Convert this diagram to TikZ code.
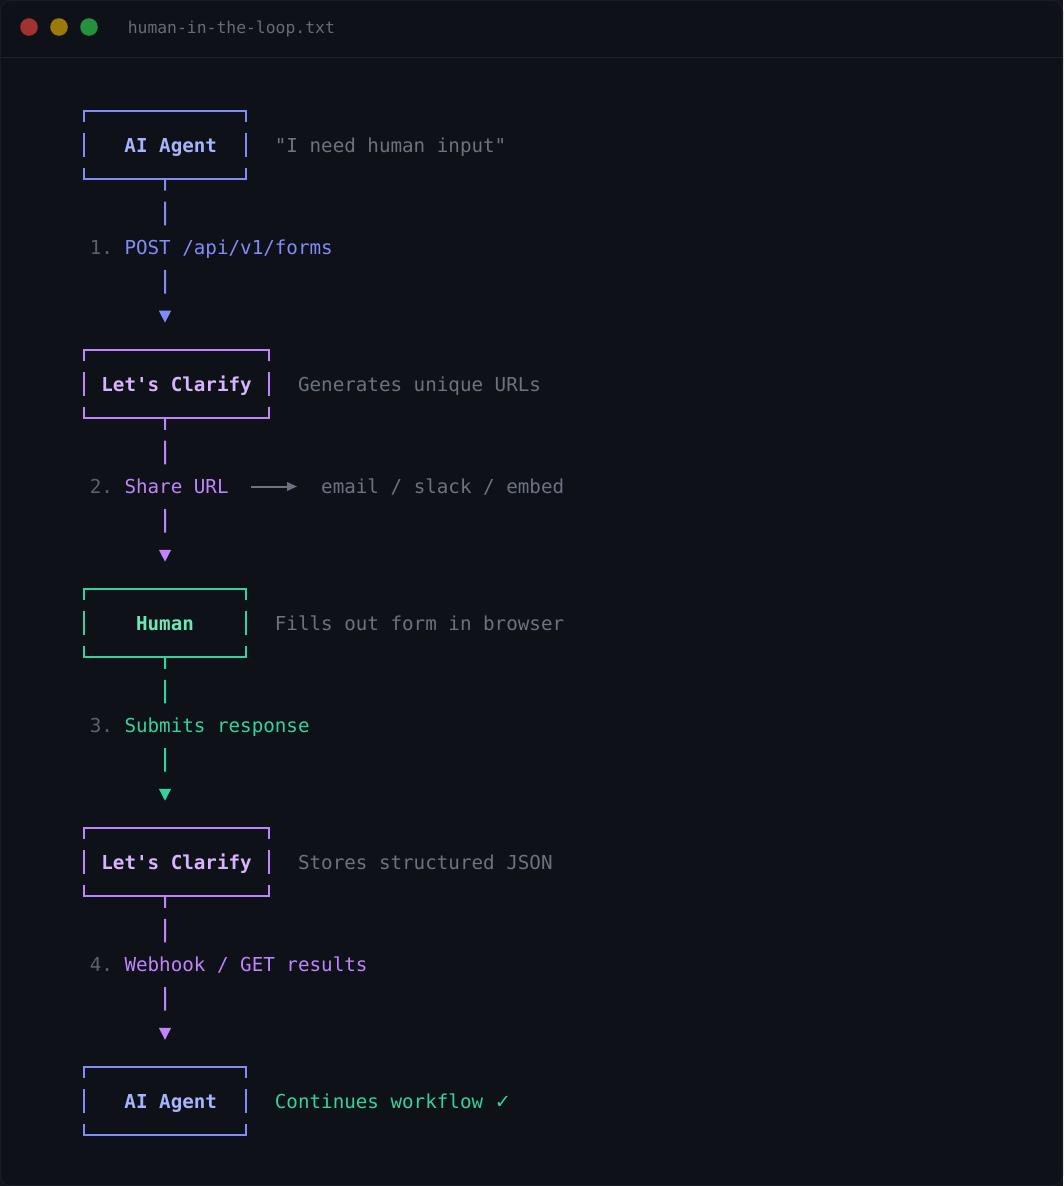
\documentclass[tikz,border=0pt]{standalone}
\usepackage{fontspec}
\setmonofont{DejaVu Sans Mono}
\newfontfamily\symfont{DejaVu Sans}
\usetikzlibrary{arrows.meta}
\definecolor{bgc}{HTML}{0E1118}
\definecolor{outerc}{HTML}{12151C}
\definecolor{borderc}{HTML}{181C24}
\definecolor{sepc}{HTML}{1E222B}
\definecolor{titlec}{HTML}{656B78}
\definecolor{dotred}{HTML}{A13232}
\definecolor{dotyel}{HTML}{9C7A0A}
\definecolor{dotgrn}{HTML}{24913D}
\definecolor{blueln}{HTML}{818CF8}
\definecolor{bluetx}{HTML}{A5B4FC}
\definecolor{purpln}{HTML}{C084FC}
\definecolor{purptx}{HTML}{D8B4FE}
\definecolor{grnln}{HTML}{34D399}
\definecolor{grntx}{HTML}{6EE7B7}
\definecolor{grayc}{HTML}{6B7280}
\definecolor{numc}{HTML}{5B6170}
\newcommand\gapbox[2]{%
  \draw[bx=#2] ([yshift=-11pt]#1.north west) -- (#1.north west) -- (#1.north east) -- ([yshift=-11pt]#1.north east);
  \draw[bx=#2] ([yshift=11.6pt]#1.south west) -- (#1.south west) -- (#1.south east) -- ([yshift=11.6pt]#1.south east);
  \draw[bx=#2] ([yshift=12pt]#1.west) -- ([yshift=-11.7pt]#1.west);
  \draw[bx=#2] ([yshift=12pt]#1.east) -- ([yshift=-11.7pt]#1.east);
}
\begin{document}
\begin{tikzpicture}[x=1pt,y=-1pt,
  txt/.style={anchor=base west,inner sep=0pt,outer sep=0pt,font=\ttfamily\fontsize{19.22}{23}\selectfont},
  lbl/.style={txt,font=\ttfamily\bfseries\fontsize{19.22}{23}\selectfont},
  boxnode/.style={draw=none,inner sep=0pt,outer sep=0pt,minimum height=68.3pt},
  bx/.style={line width=2pt,line cap=butt,draw=#1},
  conn/.style={line width=2pt,draw=#1,
    dash pattern=on 0pt off 0.85pt on 10.7pt off 10.95pt on 23.6pt off 44.7pt on 23.6pt off 80pt,
    shorten >=27.2pt, -{Triangle[width=11.7pt,length=12pt]}},
  garrow/.style={line width=2pt,draw=grayc,shorten <=22.4pt,shorten >=24.2pt,
    -{Triangle[width=8.5pt,length=10pt]}},
  dot/.style={circle,inner sep=0pt,minimum size=17.6pt,fill=#1}
]
\useasboundingbox (0,0) rectangle (1063,1186);
\fill[outerc] (0,0) rectangle (1063,1186);
\filldraw[fill=bgc,draw=borderc,line width=1pt,rounded corners=10pt] (0.5,0.5) rectangle (1062.5,1185.5);

% title bar
\node[dot=dotred] (red) at (29,27) {};
\node[dot=dotyel] (yel) at (59,27) {};
\node[dot=dotgrn] (grn) at (89,27) {};
\node[anchor=base west,inner sep=0pt,font=\ttfamily\fontsize{16.38}{20}\selectfont,text=titlec] (title) at (127.6,33.1) {human-in-the-loop.txt};
\draw[sepc,line width=1pt] (0.5,57.3) -- (1062.5,57.3);

% boxes
\node[boxnode,minimum width=161.98pt] (b1) at (165,145) {};
\node[boxnode,minimum width=185.12pt] (b2) at (176.56,384.05) {};
\node[boxnode,minimum width=161.98pt] (b3) at (165,623.1) {};
\node[boxnode,minimum width=185.12pt] (b4) at (176.56,862.15) {};
\node[boxnode,minimum width=161.98pt] (b5) at (165,1101.2) {};
\gapbox{b1}{blueln}
\gapbox{b2}{purpln}
\gapbox{b3}{grnln}
\gapbox{b4}{purpln}
\gapbox{b5}{blueln}

% box labels and comments
\node[lbl,text=bluetx] (t1) at (124.48,152.2) {AI Agent};
\node[txt,text=grayc] (c1) at (274.9,152.2) {"I need human input"};
\node[lbl,text=purptx] (t2) at (101.36,391.25) {Let's Clarify};
\node[txt,text=grayc] (c2) at (298.04,391.25) {Generates unique URLs};
\node[lbl,text=grntx] (t3) at (136.07,630.3) {Human};
\node[txt,text=grayc] (c3) at (274.9,630.3) {Fills out form in browser};
\node[lbl,text=purptx] (t4) at (101.36,869.35) {Let's Clarify};
\node[txt,text=grayc] (c4) at (298.04,869.35) {Stores structured JSON};
\node[lbl,text=bluetx] (t5) at (124.48,1108.4) {AI Agent};
\node[txt,text=grnln] (c5) at (274.9,1108.4) {Continues workflow {\symfont ✓}};

% step labels
\node[txt] (s1) at (89.785,254.65) {\textcolor{numc}{1.} \textcolor{blueln}{POST /api/v1/forms}};
\node[txt] (s2) at (89.785,493.7) {\textcolor{numc}{2.} \textcolor{purpln}{Share URL}};
\node[txt,text=grayc] (e2) at (321.2,493.7) {email / slack / embed};
\node[txt] (s3) at (89.785,732.75) {\textcolor{numc}{3.} \textcolor{grnln}{Submits response}};
\node[txt] (s4) at (89.785,971.8) {\textcolor{numc}{4.} \textcolor{purpln}{Webhook / GET results}};

% connectors
\draw[conn=blueln] ([xshift=81pt]b1.south west) -- ([xshift=81pt]b2.north west);
\draw[conn=purpln] ([xshift=81pt]b2.south west) -- ([xshift=81pt]b3.north west);
\draw[conn=grnln] ([xshift=81pt]b3.south west) -- ([xshift=81pt]b4.north west);
\draw[conn=purpln] ([xshift=81pt]b4.south west) -- ([xshift=81pt]b5.north west);
\draw[garrow] ([yshift=7.2pt]s2.base east) -- ([yshift=7.2pt]e2.base west);
\end{tikzpicture}
\end{document}
